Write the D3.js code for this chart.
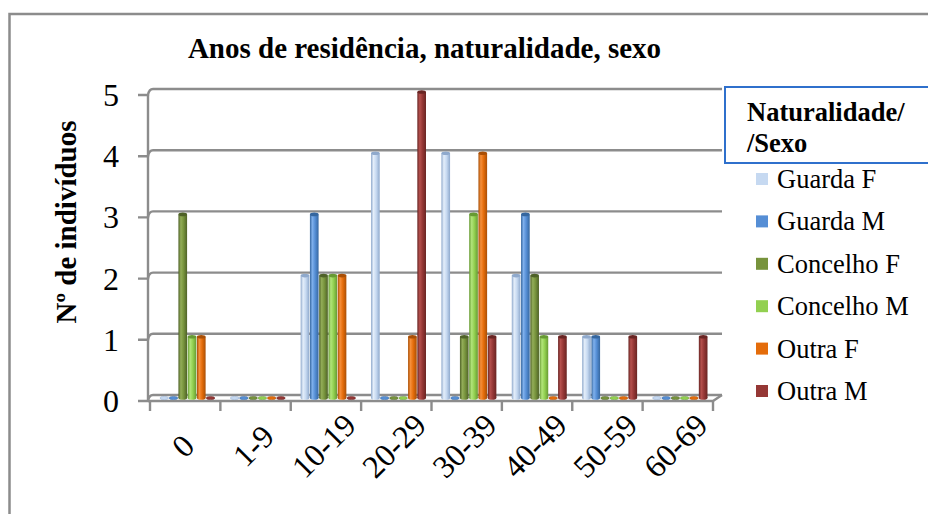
<!DOCTYPE html>
<html><head><meta charset="utf-8">
<script src="https://cdn.jsdelivr.net/npm/d3@7"></script>
<style>html,body{margin:0;padding:0;background:#fff;}svg{display:block;}</style>
</head><body>
<svg id="chart" width="928" height="514"></svg>
<script>
const categories = ["0","1-9","10-19","20-29","30-39","40-49","50-59","60-69"];
const seriesNames = ["Guarda F","Guarda M","Concelho F","Concelho M","Outra F","Outra M"];
const guardaF   = [0,0,2,4,4,2,1,0];
const guardaM   = [0,0,3,0,0,3,1,0];
const concelhoF = [3,0,2,0,1,2,0,0];
const concelhoM = [1,0,2,0,3,1,0,0];
const outraF    = [1,0,2,1,4,0,0,0];
const outraM    = [0,0,0,5,1,1,1,1];
const yTicks = [0,1,2,3,4,5];
const colors = ["#c6d9f1","#558ed5","#77933c","#92d050","#e46c0a","#953735"];
const edges  = ["#8fa9cc","#36679f","#4f6228","#679a33","#a94f06","#692523"];
const highs  = ["#e4eefa","#7fb0ec","#93ad58","#b2e57a","#f68f3a","#b5504d"];
const seriesValues = [guardaF,guardaM,concelhoF,concelhoM,outraF,outraM];

const svg = d3.select("#chart");
const serif = "'Liberation Serif','Times New Roman',serif";

svg.append("rect").attr("x",9.5).attr("y",14).attr("width",940).attr("height",540)
  .attr("fill","none").attr("stroke","#8c8c8c").attr("stroke-width",2.5);

const x0 = d3.scaleBand().domain(categories).range([150,713]).padding(0);
const x1 = d3.scaleBand().domain(seriesNames).range([0,x0.bandwidth()]).paddingOuter(0.8).paddingInner(0);
const y = d3.scaleLinear().domain([0,5]).range([401,95]);
const DX = 5, DY = -6;

const defs = svg.append("defs");
colors.forEach((c,i)=>{
  const g = defs.append("linearGradient").attr("id","cyl"+i).attr("x1","0").attr("x2","1").attr("y1","0").attr("y2","0");
  g.append("stop").attr("offset","0%").attr("stop-color",edges[i]);
  g.append("stop").attr("offset","28%").attr("stop-color",highs[i]);
  g.append("stop").attr("offset","60%").attr("stop-color",c);
  g.append("stop").attr("offset","100%").attr("stop-color",edges[i]);
});

const gridColor = "#8c8c8c";
const grid = svg.append("g");
yTicks.forEach(t=>{
  grid.append("line").attr("x1",148+DX).attr("x2",722).attr("y1",y(t)+DY).attr("y2",y(t)+DY)
    .attr("stroke",gridColor).attr("stroke-width",2.4);
  grid.append("path").attr("d",`M138,${y(t)} L148,${y(t)} Q149,${y(t)+DY} ${148+DX},${y(t)+DY}`)
    .attr("fill","none").attr("stroke",gridColor).attr("stroke-width",2.4);
});
svg.append("line").attr("x1",148).attr("x2",148).attr("y1",y(5)).attr("y2",y(0))
  .attr("stroke",gridColor).attr("stroke-width",2.4);
svg.append("path").attr("d",`M148,${y(0)} L713,${y(0)} L722,${y(0)+DY}`)
  .attr("fill","none").attr("stroke",gridColor).attr("stroke-width",2.4);
const bounds = categories.map(c=>x0(c)).concat([x0.range()[1]]);
bounds.forEach(b=>{
  svg.append("line").attr("x1",b).attr("x2",b).attr("y1",y(0)).attr("y2",y(0)+10)
    .attr("stroke",gridColor).attr("stroke-width",2.4);
});

const barsG = svg.append("g");
const bw = x1.bandwidth();
const mid = v => y(v) + DY/2;
categories.forEach((cat,ci)=>{
  seriesNames.forEach((s,si)=>{
    const v = seriesValues[si][ci];
    const bx = x0(cat) + x1(s) + DX/2;
    const w = bw - 0.6;
    if (v > 0) {
      barsG.append("rect").attr("x",bx).attr("y",mid(v)).attr("width",w).attr("height",mid(0)-mid(v))
        .attr("fill",`url(#cyl${si})`);
      barsG.append("ellipse").attr("cx",bx+w/2).attr("cy",mid(0)).attr("rx",w/2).attr("ry",1.8)
        .attr("fill",`url(#cyl${si})`);
      barsG.append("ellipse").attr("cx",bx+w/2).attr("cy",mid(v)).attr("rx",w/2).attr("ry",1.8)
        .attr("fill",edges[si]);
    } else {
      barsG.append("ellipse").attr("cx",bx+w/2).attr("cy",mid(0)).attr("rx",w/2).attr("ry",1.6)
        .attr("fill",colors[si]).attr("stroke",edges[si]).attr("stroke-width",0.5);
    }
  });
});

yTicks.forEach(t=>{
  svg.append("text").attr("x",119).attr("y",y(t)+11).attr("text-anchor","end")
    .attr("font-family",serif).attr("font-size",32).attr("fill","#000").text(t);
});

categories.forEach(c=>{
  const cx = x0(c) + x0.bandwidth()/2 - 2;
  svg.append("text").attr("transform",`translate(${cx},446) rotate(-45)`)
    .attr("text-anchor","middle").attr("dy","0.33em").attr("font-family",serif).attr("font-size",32)
    .attr("fill","#000").text(c);
});

svg.append("text").attr("transform","translate(76,222) rotate(-90)")
  .attr("text-anchor","middle").attr("font-family",serif).attr("font-weight","bold")
  .attr("font-size",29).attr("fill","#000").text("Nº de indivíduos");

svg.append("text").attr("x",424.5).attr("y",58).attr("text-anchor","middle")
  .attr("font-family",serif).attr("font-weight","bold")
  .attr("font-size",29).attr("fill","#000").text("Anos de residência, naturalidade, sexo");

const lg = svg.append("g");
lg.append("rect").attr("x",725).attr("y",87).attr("width",215).attr("height",76)
  .attr("fill","#fff").attr("stroke","#2f70cc").attr("stroke-width",2);
[["Naturalidade/",121],["/Sexo",152]].forEach(([t,yy])=>{
  lg.append("text").attr("x",747).attr("y",yy)
    .attr("font-family",serif).attr("font-weight","bold").attr("font-size",26.5)
    .attr("fill","#000").text(t);
});
seriesNames.forEach((s,i)=>{
  const cy = 179 + i*42.4;
  lg.append("rect").attr("x",756).attr("y",cy-6).attr("width",12).attr("height",12).attr("fill",colors[i]);
  lg.append("text").attr("x",777).attr("y",cy+9)
    .attr("font-family",serif).attr("font-size",26.5).attr("fill","#000").text(s);
});
</script>
</body></html>
